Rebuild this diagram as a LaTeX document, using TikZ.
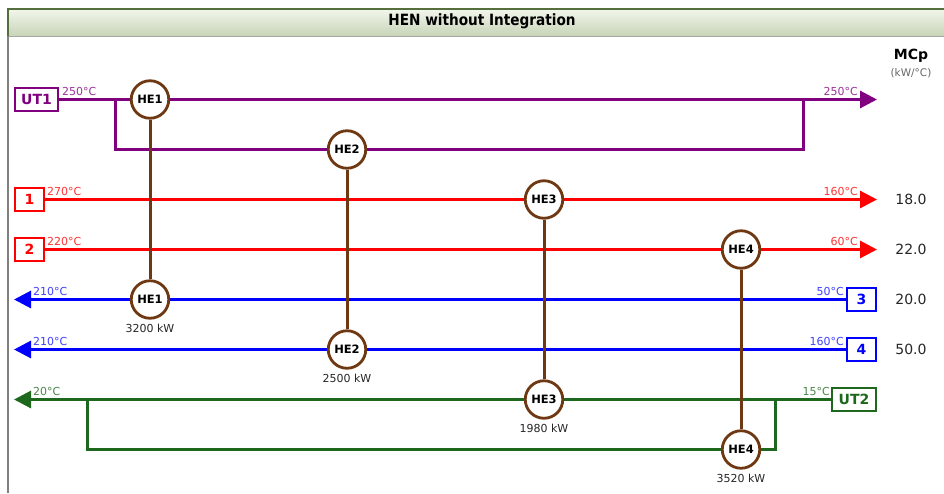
\documentclass[tikz,border=0pt]{standalone}
\usepackage{fontspec}
\setmainfont{DejaVu Sans}
\newfontfamily\titlefont{DejaVu Sans}[FakeStretch=0.88]
\usetikzlibrary{arrows.meta,backgrounds}
\definecolor{cpur}{RGB}{128,0,128}
\definecolor{cred}{RGB}{255,0,0}
\definecolor{cblu}{RGB}{0,0,255}
\definecolor{cgrn}{RGB}{30,104,30}
\definecolor{cbrn}{RGB}{110,56,18}
\definecolor{tbtop}{RGB}{242,246,236}
\definecolor{tbbot}{RGB}{200,212,184}
\definecolor{tbline}{RGB}{84,110,60}
\tikzset{
  sline/.style={line width=3pt},
  sbox/.style={draw,line width=2.2pt,fill=white,inner sep=0pt,minimum height=23pt,font=\fontsize{14}{14}\selectfont\bfseries},
  hex/.style={circle,draw=cbrn,line width=2.8pt,fill=white,minimum size=37.5pt,inner sep=0pt,font=\fontsize{11.5}{11.5}\selectfont\bfseries},
  tlab/.style={inner sep=0pt,font=\fontsize{11}{11}\selectfont},
  duty/.style={inner sep=0pt,font=\fontsize{11}{11}\selectfont,text=black!85},
  mcp/.style={inner sep=0pt,font=\fontsize{14}{14}\selectfont,text=black!85},
  link/.style={draw=cbrn,line width=3pt},
  arr/.style={-{Triangle[length=17pt,width=17pt]}},
}
\begin{document}
\begin{tikzpicture}[x=1pt,y=-1pt]
\useasboundingbox (0,0) rectangle (944,493);
\begin{scope}[on background layer]
\fill[white] (0,0) rectangle (944,493);
\end{scope}
% title bar
\shade[top color=tbtop,bottom color=tbbot] (8,9) rectangle (944,36);
\draw[tbline,line width=1.2pt] (8,36) -- (8,9) -- (944,9);
\draw[gray!70,line width=0.8pt] (8,36) -- (944,36);
\draw[gray,line width=1.2pt] (8,36) -- (8,493);
\node[inner sep=0pt,font=\titlefont\fontsize{15.5}{15.5}\selectfont\bfseries] (title) at (482,21) {HEN without Integration};
% MCp header
\node[inner sep=0pt,font=\fontsize{14}{14}\selectfont\bfseries] (mcph) at (911,56) {MCp};
\node[inner sep=0pt,font=\fontsize{10.5}{10.5}\selectfont,text=black!60] (mcpu) at (911,73) {(kW/°C)};
% stream boxes
\node[sbox,draw=cpur,text=cpur,minimum width=43pt] (ut1) at (36.5,99.5) {UT1};
\node[sbox,draw=cred,text=cred,minimum width=29pt] (s1) at (29.5,199.5) {1};
\node[sbox,draw=cred,text=cred,minimum width=29pt] (s2) at (29.5,249.5) {2};
\node[sbox,draw=cblu,text=cblu,minimum width=29pt] (s3) at (861.5,299.5) {3};
\node[sbox,draw=cblu,text=cblu,minimum width=29pt] (s4) at (861.5,349.5) {4};
\node[sbox,draw=cgrn,text=cgrn,minimum width=44pt] (ut2) at (854,399.5) {UT2};
% stream ends
\coordinate (e0) at (877,99.5);
\coordinate (e1) at (877,199.5);
\coordinate (e2) at (877,249.5);
\coordinate (e3) at (14,299.5);
\coordinate (e4) at (14,349.5);
\coordinate (e5) at (14,399.5);
% branch points
\coordinate (b0a) at (115,99.5);
\coordinate (b0b) at (115,149.5);
\coordinate (b0c) at (803,149.5);
\coordinate (b0d) at (803,99.5);
\coordinate (b5a) at (87,399.5);
\coordinate (b5b) at (87,449.5);
\coordinate (b5c) at (775,449.5);
\coordinate (b5d) at (775,399.5);
% heat exchangers
\node[hex] (he1h) at (150,99.5) {HE1};
\node[hex] (he2h) at (347,149.5) {HE2};
\node[hex] (he3h) at (544,199.5) {HE3};
\node[hex] (he4h) at (741,249.5) {HE4};
\node[hex] (he1c) at (150,299.5) {HE1};
\node[hex] (he2c) at (347,349.5) {HE2};
\node[hex] (he3c) at (544,399.5) {HE3};
\node[hex] (he4c) at (741,449.5) {HE4};
\begin{scope}[on background layer]
\draw[sline,cpur,arr] (ut1) -- (e0);
\draw[sline,cpur] (b0a) -- (b0b) -- (b0c) -- (b0d);
\draw[sline,cred,arr] (s1) -- (e1);
\draw[sline,cred,arr] (s2) -- (e2);
\draw[sline,cblu,arr] (s3) -- (e3);
\draw[sline,cblu,arr] (s4) -- (e4);
\draw[sline,cgrn,arr] (ut2) -- (e5);
\draw[sline,cgrn] (b5a) -- (b5b) -- (b5c) -- (b5d);
\end{scope}
\draw[link] (he1h) -- (he1c);
\draw[link] (he2h) -- (he2c);
\draw[link] (he3h) -- (he3c);
\draw[link] (he4h) -- (he4c);
% temperatures
\node[tlab,text=cpur!80,anchor=south west] (t0l) at (62,96) {250°C};
\node[tlab,text=cpur!80,anchor=south east] (t0r) at (858,96) {250°C};
\node[tlab,text=cred!80,anchor=south west] (t1l) at (47,196) {270°C};
\node[tlab,text=cred!80,anchor=south east] (t1r) at (858,196) {160°C};
\node[tlab,text=cred!80,anchor=south west] (t2l) at (47,246) {220°C};
\node[tlab,text=cred!80,anchor=south east] (t2r) at (858,246) {60°C};
\node[tlab,text=cblu!75,anchor=south west] (t3l) at (33,296) {210°C};
\node[tlab,text=cblu!75,anchor=south east] (t3r) at (844,296) {50°C};
\node[tlab,text=cblu!75,anchor=south west] (t4l) at (33,346) {210°C};
\node[tlab,text=cblu!75,anchor=south east] (t4r) at (844,346) {160°C};
\node[tlab,text=cgrn!80,anchor=south west] (t5l) at (33,396) {20°C};
\node[tlab,text=cgrn!80,anchor=south east] (t5r) at (830,396) {15°C};
% duties
\node[duty] (d1) at (150,328) {3200 kW};
\node[duty] (d2) at (347,378) {2500 kW};
\node[duty] (d3) at (544,428) {1980 kW};
\node[duty] (d4) at (741,478) {3520 kW};
% MCp values
\node[mcp] (m1) at (911,199.5) {18.0};
\node[mcp] (m2) at (911,249.5) {22.0};
\node[mcp] (m3) at (911,299.5) {20.0};
\node[mcp] (m4) at (911,349.5) {50.0};
\end{tikzpicture}
\end{document}
